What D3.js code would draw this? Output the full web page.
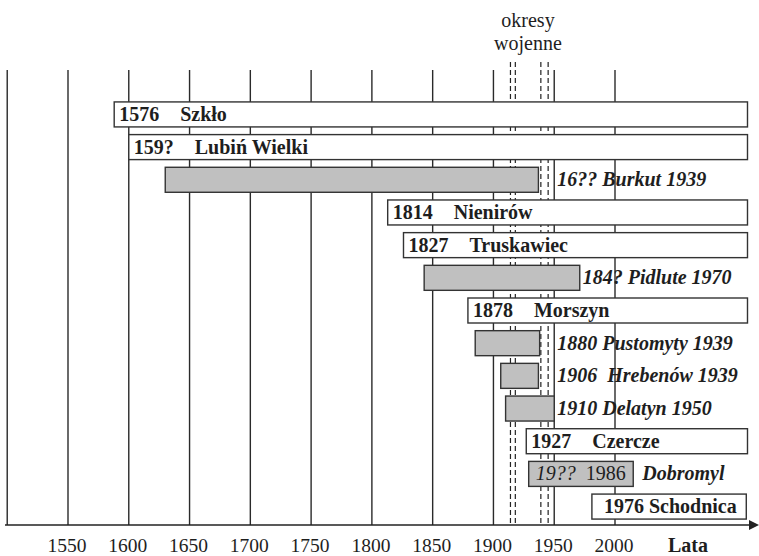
<!DOCTYPE html>
<html>
<head>
<meta charset="utf-8">
<script src="https://cdn.jsdelivr.net/npm/d3@7"></script>
<style>
  body { margin: 0; background: #fff; }
</style>
</head>
<body>
<div id="chart"></div>
<script>
// rows top to bottom
const placeNames = ["Szkło", "Lubiń Wielki", "Burkut", "Nienirów", "Truskawiec", "Pidlute", "Morszyn",
  "Pustomyty", "Hrebenów", "Delatyn", "Czercze", "Dobromyl", "Schodnica"];
const barType = ["open", "open", "closed", "open", "open", "closed", "open",
  "closed", "closed", "closed", "open", "closed", "open"];
const barStart = [1588, 1600, 1630, 1813, 1826, 1843, 1879, 1885, 1906, 1910, 1927, 1929, 1981];
const barEnd = [2109, 2109, 1937, 2109, 2109, 1971, 2109, 1938, 1937, 1950, 2109, 2015, 2108];
const foundedLabel = ["1576", "159?", "16??", "1814", "1827", "184?", "1878", "1880", "1906", "1910", "1927", "19??", "1976"];
const closedLabel = ["", "", "1939", "", "", "1970", "", "1939", "1939", "1950", "", "1986", ""];

const gridYears = [1500, 1550, 1600, 1650, 1700, 1750, 1800, 1850, 1900, 1950, 2000];
const tickLabels = ["1550", "1600", "1650", "1700", "1750", "1800", "1850", "1900", "1950", "2000"];
const warYears = [1914, 1918, 1939, 1945];

const width = 759, height = 556;
const axisY = 525;
const serif = "'Liberation Serif'";
const fs = 20;

const svg = d3.select("#chart").append("svg")
  .attr("width", width)
  .attr("height", height);

const x = d3.scaleLinear().domain([1550, 2000]).range([68, 615]);
const y = d3.scaleBand().domain(placeNames).range([98, 523])
  .paddingInner(0.235).paddingOuter(0.12);

const rows = placeNames.map((n, i) => ({
  name: n, type: barType[i], start: barStart[i], end: barEnd[i],
  founded: foundedLabel[i], closed: closedLabel[i]
}));

// every text gets its font set directly on the element
function addText(parent, tx, ty, str, size, weight, style, anchor) {
  return parent.append("text")
    .attr("x", tx).attr("y", ty)
    .attr("font-family", serif)
    .attr("font-size", size)
    .attr("font-weight", weight || "normal")
    .attr("font-style", style || "normal")
    .attr("text-anchor", anchor || "start")
    .attr("fill", "#1e1e1e")
    .text(str);
}

// vertical grid
svg.append("g").selectAll("line")
  .data(gridYears)
  .enter().append("line")
    .attr("x1", d => x(d)).attr("x2", d => x(d))
    .attr("y1", 70).attr("y2", axisY)
    .attr("stroke", "#2a2a2a").attr("stroke-width", 1.4);

// war periods
svg.append("g").selectAll("line")
  .data(warYears)
  .enter().append("line")
    .attr("x1", d => x(d)).attr("x2", d => x(d))
    .attr("y1", 62).attr("y2", axisY)
    .attr("stroke", "#222").attr("stroke-width", 1.2)
    .attr("stroke-dasharray", "5,3");

addText(svg, 528, 27, "okresy", fs, null, null, "middle");
addText(svg, 528, 50, "wojenne", fs, null, null, "middle");

// bars
svg.append("g").selectAll("rect")
  .data(rows)
  .enter().append("rect")
    .attr("x", d => x(d.start))
    .attr("y", d => y(d.name))
    .attr("width", d => x(d.end) - x(d.start))
    .attr("height", y.bandwidth())
    .attr("fill", d => d.type == "open" ? "#fff" : "#c0c0c0")
    .attr("stroke", "#333").attr("stroke-width", 1.4);

// labels
const labels = svg.append("g");
rows.forEach(d => {
  let ty = y(d.name) + y.bandwidth() / 2 + 6.5;
  let x0 = x(d.start), x1 = x(d.end);
  if (d.type == "open") {
    if (d.name == "Schodnica") {
      addText(labels, x0 + 12, ty, d.founded + " " + d.name, fs, "bold");
    } else {
      addText(labels, x0 + 5, ty, d.founded, fs, "bold");
      addText(labels, x0 + 66, ty, d.name, fs, "bold");
    }
  } else if (d.name == "Dobromyl") {
    addText(labels, x0 + 7, ty, d.founded, fs, null, "italic");
    addText(labels, x0 + 57, ty, d.closed, fs);
    addText(labels, x1 + 9, ty, d.name, fs, "bold", "italic");
  } else {
    let lx = Math.max(x1, x(1950)) + 3;
    let gap = d.name == "Hrebenów" ? "\u00a0 " : " ";
    addText(labels, lx, ty, d.founded + gap + d.name + " " + d.closed, fs, "bold", "italic");
  }
});

// time axis with arrow
svg.append("line")
  .attr("x1", 5).attr("x2", 750)
  .attr("y1", axisY).attr("y2", axisY)
  .attr("stroke", "#222").attr("stroke-width", 1.5);
svg.append("path")
  .attr("d", d3.line()([[749, axisY - 5], [759, axisY], [749, axisY + 5]]) + "Z")
  .attr("fill", "#222");

svg.append("g").selectAll("text")
  .data(tickLabels)
  .enter().append("text")
    .attr("x", d => x(+d) - 1)
    .attr("y", 552)
    .attr("text-anchor", "middle")
    .attr("font-family", serif)
    .attr("font-size", 19.5)
    .attr("fill", "#1e1e1e")
    .text(d => d);

addText(svg, 688, 552, "Lata", fs, "bold", null, "middle");
</script>
</body>
</html>
